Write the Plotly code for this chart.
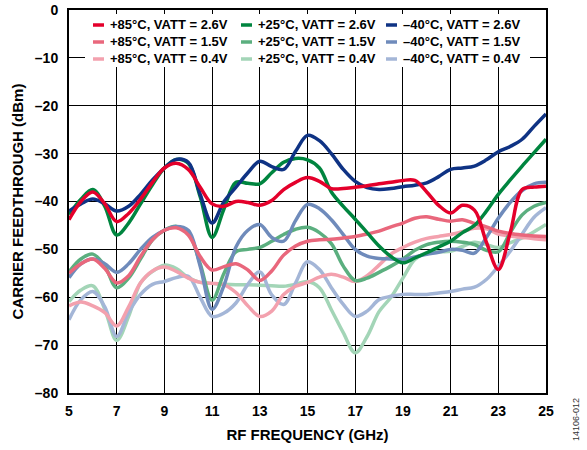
import plotly.graph_objects as go

# RF frequency grid (GHz)
freq_ghz = [5 + 0.5 * i for i in range(41)]

# Carrier feedthrough (dBm) per temperature / VATT setting
p85_vatt26 = [-43.8, -40, -38, -40.5, -44.2, -42.5, -39.5, -36, -33, -32, -33.3, -37, -40.5, -41, -40,
              -40.2, -40.8, -39.8, -37.5, -36, -35, -35.8, -37.3, -37.3, -37, -36.7, -36.3, -36, -35.6,
              -35.6, -38, -40.8, -42.4, -40.8, -41.8, -48.5, -54.2, -46.5, -37.5, -37, -36.8]
p25_vatt26 = [-42.7, -39.5, -37.5, -41, -47, -44.5, -40.5, -36.5, -33, -31.2, -32, -39, -47.5, -41.5, -36,
              -36.2, -36.3, -34, -31.8, -31, -31.3, -33, -38, -41, -43.7, -46.5, -49.3, -51.5, -52.8,
              -51.8, -50.7, -49.5, -48.3, -46.5, -45, -42, -38.5, -35.5, -32.6, -29.8, -27]
m40_vatt26 = [-42, -40.5, -39.5, -40.5, -42, -41, -38.5, -35.5, -33, -31.2, -31.8, -38.5, -44.5, -40, -37,
              -34, -31.6, -32.7, -33.3, -29.5, -26.2, -27.3, -30, -33.3, -35.8, -37.1, -37.5, -37.3, -36.9,
              -36.6, -36.1, -34.8, -33.3, -33, -32.6, -31.3, -29.6, -28.5, -27, -24.3, -21.7]

p85_vatt15 = [-55, -53, -52, -54, -57, -55.5, -51.5, -48, -46, -45.5, -47, -51.5, -54.3, -53.6, -53,
              -54.3, -56.5, -54.5, -51.2, -49.3, -48.3, -48, -47.9, -47.6, -47.3, -46.8, -46.2, -45.3, -44.5,
              -43.5, -43.2, -43.7, -44.1, -43.8, -44.6, -45.3, -46.2, -46.7, -47, -47.2, -47.3]
p25_vatt15 = [-54.7, -52, -51, -53.5, -58, -56, -52, -48, -46, -45.2, -46.5, -53, -60.6, -55, -50.5,
              -50, -49.6, -48.3, -46.9, -45.8, -45.4, -46.5, -48.8, -53.5, -56.5, -56, -54.8, -53.5, -52,
              -50.2, -49, -48.5, -48.3, -48.5, -49, -50.2, -50.5, -46.5, -42.8, -41, -40.2]
m40_vatt15 = [-55.9, -53, -52, -53, -54.8, -53, -50, -47.5, -46, -45.2, -46, -53.5, -62.5, -57.5, -49.5,
              -46, -44.8, -47.5, -48.3, -44, -40.6, -41.5, -43.8, -46.9, -50, -51.4, -51.9, -52, -52.1,
              -51.6, -51, -50.6, -50, -50.2, -50.8, -47.5, -43.5, -40.2, -37.7, -36.3, -36]

p85_vatt04 = [-61.8, -61, -61.8, -63.2, -66, -62, -57, -54.5, -53.7, -54.6, -56, -56.9, -57.1, -57.4, -59,
              -61.8, -64, -62.9, -59.4, -57.7, -56.9, -55.8, -55.2, -55.8, -56.7, -55.5, -53.3, -51, -49.6,
              -48.5, -47.7, -47.3, -46.9, -46.3, -45.6, -45.7, -46.8, -47.2, -47.5, -47.8, -48]
p25_vatt04 = [-60.9, -58.5, -57.6, -62.5, -69, -64, -57, -54.6, -53.3, -54, -55.9, -56.9, -57.1, -57.3, -57.4,
              -57.4, -57.5, -57.6, -57.7, -57.3, -56.7, -58, -62.6, -67.4, -71.6, -68.2, -63, -60, -56,
              -52.1, -50.7, -50.5, -50.4, -49.4, -48.5, -49, -49.6, -48.6, -47.6, -46.3, -44.8]
m40_vatt04 = [-64.7, -60.5, -58.8, -62, -68.2, -63.2, -59.4, -57.3, -56.7, -55.9, -55.6, -60, -64, -63.3, -61.2,
              -57.3, -54.7, -59.5, -61.5, -57, -52.6, -54.2, -58, -61.5, -64, -62.9, -60.5, -59.8, -59.4,
              -59.4, -59.4, -59.1, -58.8, -58.3, -57.9, -56.3, -53.5, -50.4, -46.8, -43.3, -41.3]

series_names = ["+85°C, VATT = 2.6V", "+85°C, VATT = 1.5V", "+85°C, VATT = 0.4V",
                "+25°C, VATT = 2.6V", "+25°C, VATT = 1.5V", "+25°C, VATT = 0.4V",
                "–40°C, VATT = 2.6V", "–40°C, VATT = 1.5V", "–40°C, VATT = 0.4V"]
series_values = [p85_vatt26, p85_vatt15, p85_vatt04,
                 p25_vatt26, p25_vatt15, p25_vatt04,
                 m40_vatt26, m40_vatt15, m40_vatt04]
series_colors = ["#E4002B", "#E9677C", "#F3A1AE",
                 "#00853F", "#5BAF7F", "#A3D5B7",
                 "#0F3384", "#6F8BBB", "#A4B6D7"]

x_ticks = [5, 7, 9, 11, 13, 15, 17, 19, 21, 23, 25]
y_ticks = [0, -10, -20, -30, -40, -50, -60, -70, -80]
y_tick_text = ["0", "–10", "–20", "–30", "–40", "–50", "–60", "–70", "–80"]

FONT = "Liberation Sans, Arial, sans-serif"

fig = go.Figure()

# pale curves first, then 1.5 V, then 2.6 V on top (green, blue, red)
draw_order = [5, 8, 2, 4, 7, 1, 3, 6, 0]
for idx in draw_order:
    fig.add_trace(go.Scatter(
        x=freq_ghz, y=series_values[idx], mode="lines", name=series_names[idx],
        line=dict(color=series_colors[idx], width=3.5, shape="spline", smoothing=1.0),
        showlegend=False, hoverinfo="skip"))

# plot geometry in pixels (used for the key placement)
W, H = 587, 450
ML, MR, MT, MB = 69, 41, 10, 57
PW, PH = W - ML - MR, H - MT - MB


def px_x(px):
    return (px - ML) / PW


def px_y(py):
    return (H - MB - py) / PH


shapes = [dict(type="rect", xref="paper", yref="paper",
               x0=px_x(85), x1=px_x(530), y0=px_y(67), y1=px_y(14),
               fillcolor="white", line=dict(width=0), layer="above")]
annotations = []
col_text_x = [109, 257, 402]
row_y = [25, 42, 59]
for i, name in enumerate(series_names):
    col, row = i // 3, i % 3
    tx, ty = col_text_x[col], row_y[row]
    shapes.append(dict(type="line", xref="paper", yref="paper",
                       x0=px_x(tx - 16), x1=px_x(tx - 5), y0=px_y(ty), y1=px_y(ty),
                       line=dict(color=series_colors[i], width=3.5), layer="above"))
    annotations.append(dict(text=name, xref="paper", yref="paper", x=px_x(tx - 1), y=px_y(ty),
                            xanchor="left", yanchor="middle", showarrow=False,
                            font=dict(family=FONT, size=13, color="black", weight="bold")))

annotations.append(dict(text="14106-012", xref="paper", yref="paper", x=px_x(576), y=px_y(420),
                        xanchor="center", yanchor="middle", textangle=-90, showarrow=False,
                        font=dict(family=FONT, size=9, color="#333333")))

axis_common = dict(showgrid=True, gridcolor="black", gridwidth=1.3, showline=True, linecolor="black",
                   linewidth=2, mirror=True, ticks="", zeroline=False, automargin=False,
                   tickfont=dict(family=FONT, size=14, color="black", weight="bold"))

fig.update_layout(
    width=W, height=H, margin=dict(l=ML, r=MR, t=MT, b=MB),
    paper_bgcolor="white", plot_bgcolor="white",
    shapes=shapes, annotations=annotations, showlegend=False,
    xaxis=dict(range=[5, 25], tickvals=x_ticks, ticklabelstandoff=4,
               title=dict(text="RF FREQUENCY (GHz)", standoff=12,
                          font=dict(family=FONT, size=15, color="black", weight="bold")),
               **axis_common),
    yaxis=dict(range=[-80, 0], tickvals=y_ticks, ticktext=y_tick_text, ticklabelstandoff=6,
               title=dict(text="CARRIER FEEDTHROUGH (dBm)", standoff=8,
                          font=dict(family=FONT, size=15, color="black", weight="bold")),
               **axis_common),
)

fig.write_html("out.html")
